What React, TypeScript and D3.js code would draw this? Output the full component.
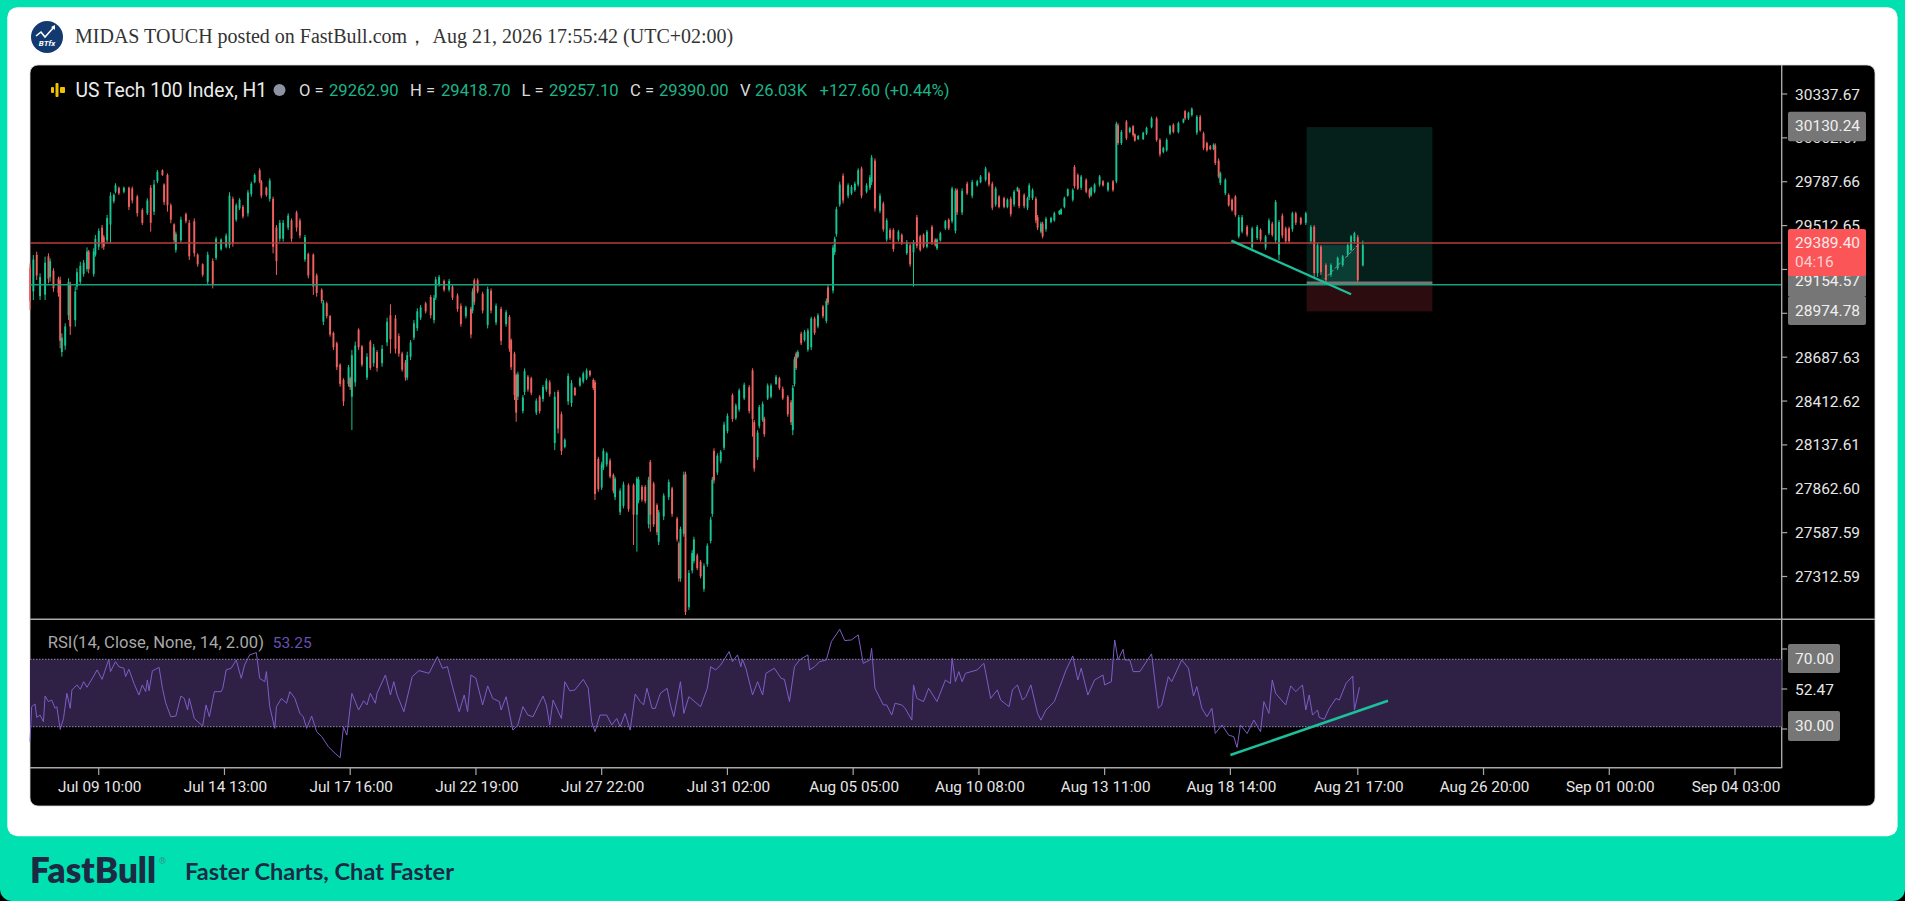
import React from "react";
import * as d3 from "d3";

type Row = [number, number, number, number, number];

// [bar number, open, high, low, close]
const earlyJuly: Row[] = [
[0,29250,29276,28983,29040],[2,29100,29328,29046,29300],[4,29330,29349,29172,29200],[6,29070,29213,29046,29190],[9,29080,29318,29046,29280],[11,29320,29339,29151,29180],[12,29190,29307,29161,29290],[14,29230,29245,29098,29120],[17,29180,29192,29067,29090],[18,29170,29192,28743,28790],[19,28720,28837,28691,28810],[21,28760,28900,28733,28880],[23,28950,29182,28921,29160],[24,29140,29161,28827,28880],[27,28920,29130,28879,29100],[28,29130,29245,29109,29220],[30,29160,29286,29140,29260],[32,29210,29297,29192,29280],[34,29240,29376,29224,29350],[35,29350,29360,29213,29240],[38,29210,29370,29192,29350],[39,29330,29454,29318,29430],[41,29380,29495,29360,29480],[43,29500,29516,29370,29400],[44,29440,29454,29360,29380],[46,29420,29579,29401,29560],[48,29520,29721,29401,29700],[50,29665,29715,29652,29705],[51,29725,29778,29715,29765],[53,29750,29757,29705,29715],[56,29725,29757,29715,29750],[59,29750,29757,29610,29630],[61,29745,29757,29652,29670],[64,29695,29705,29569,29590],[67,29610,29621,29516,29530],[70,29590,29684,29579,29670],[72,29750,29767,29475,29530],[74,29600,29799,29579,29770],[76,29790,29861,29778,29850],[79,29860,29865,29824,29830],[80,29770,29778,29642,29660],[82,29830,29840,29600,29640],[84,29640,29652,29527,29550],[86,29520,29527,29401,29420],[87,29360,29475,29343,29460],[90,29420,29569,29401,29550],[93,29585,29594,29527,29540],[95,29530,29548,29297,29320],[98,29540,29558,29318,29340],[100,29330,29339,29255,29270],[103,29270,29276,29192,29205],[106,29160,29349,29140,29330],[109,29290,29307,29119,29140],[111,29310,29443,29297,29430],[114,29365,29433,29355,29425],[117,29380,29464,29370,29450],[119,29390,29721,29370,29700],[121,29680,29694,29380,29400],[123,29550,29652,29537,29640],[125,29620,29684,29610,29675],[127,29630,29642,29558,29570],[130,29590,29736,29569,29720],[132,29710,29788,29694,29775],[134,29785,29840,29778,29830],[137,29860,29872,29778,29790],[138,29790,29799,29684,29700],[141,29750,29757,29694,29705],[143,29680,29809,29663,29795],[145,29680,29694,29339,29380],[147,29500,29516,29203,29290],[149,29430,29548,29412,29530],[151,29430,29548,29412,29530],[154,29500,29590,29485,29575],[156,29545,29558,29412,29430],[159,29595,29606,29475,29500],[161,29545,29558,29433,29450],[164,29300,29454,29286,29440],[166,29335,29343,29182,29200],[169,29330,29339,29078,29130],[171,29200,29213,29067,29090],[174,29110,29119,29025,29040],[175,28910,29046,28889,29030],[177,29025,29036,28931,28945],[179,28945,28952,28816,28830],[181,28840,28848,28733,28750],[183,28775,28785,28607,28625],[185,28640,28649,28503,28520],[187,28545,28555,28382,28410],[190,28520,28639,28503,28625],[191,28555,28566,28482,28500],[192,28440,28733,28231,28700],[194,28530,28785,28503,28760],[196,28860,28869,28733,28750],[198,28755,28764,28628,28640],[201,28560,28712,28545,28690],[203,28785,28795,28607,28620],
];

const midJuly: Row[] = [
[205,28650,28770,28628,28750],[207,28720,28732,28597,28620],[210,28650,28764,28628,28740],[213,28780,28935,28757,28910],[215,28950,29019,28711,28800],[218,28930,28952,28711,28740],[220,28820,28837,28691,28710],[222,28710,28722,28597,28610],[224,28655,28670,28540,28560],[225,28560,28722,28544,28700],[227,28690,28795,28670,28780],[229,28810,28920,28795,28900],[231,28870,28994,28852,28975],[233,28935,29015,28920,29000],[236,29025,29035,28962,28975],[239,29065,29077,28931,28950],[241,28920,29077,28900,29060],[242,29060,29192,29046,29175],[244,29140,29203,29130,29190],[247,29165,29175,29098,29110],[250,29110,29178,29098,29165],[252,29130,29140,29046,29060],[255,29075,29088,28973,28990],[257,29010,29025,28879,28895],[260,28945,29010,28931,29000],[263,28990,29004,28806,28830],[264,28980,29119,28962,29100],[265,29170,29182,29015,29035],[267,29170,29182,29088,29100],[270,29085,29098,28962,28980],[273,28890,29130,28868,29115],[275,29105,29119,28962,28980],[278,28905,29025,28889,29010],[281,28990,29004,28764,28790],[284,28895,28983,28879,28970],[286,28940,28952,28722,28740],[287,28795,28805,28607,28625],[289,28710,28722,28419,28450],[290,28575,28586,28283,28340],[291,28440,28597,28419,28580],[294,28350,28450,28335,28435],[295,28470,28617,28450,28600],[297,28565,28576,28471,28485],[299,28555,28565,28450,28465],[302,28340,28429,28325,28415],[304,28440,28450,28335,28350],[306,28425,28513,28408,28500],[308,28485,28555,28471,28540],[310,28530,28544,28440,28455],[313,28150,28471,28105,28440],[315,28470,28482,28210,28240],[317,28330,28346,28074,28100],[319,28125,28179,28116,28170],[321,28410,28586,28388,28570],[323,28400,28544,28377,28525],[325,28495,28502,28444,28450],[328,28510,28565,28502,28555],[330,28535,28597,28523,28585],[332,28555,28617,28544,28605],[334,28600,28607,28565,28575],[336,28545,28555,28482,28495],[337,28530,28544,27792,27830],[339,28050,28063,27844,27860],[341,27870,28032,27855,28015],[342,27995,28116,27980,28100],[344,28015,28095,28001,28085],[346,28040,28053,27928,27940],[348,27950,27959,27834,27850],[349,27810,27938,27792,27925],[352,27715,27865,27698,27850],[354,27755,27907,27740,27890],[357,27885,27896,27719,27735],[360,27885,27896,27510,27700],[362,27700,27938,27468,27925],[363,27790,27938,27771,27920],[365,27875,27886,27781,27795],[367,27875,27886,27771,27785],[369,27640,27938,27614,27920],[370,28030,28043,27593,27700],[372,27895,27907,27624,27640],[374,27760,27771,27572,27590],[375,27530,27730,27510,27715],[378,27690,27834,27666,27820],[381,27810,27921,27792,27905],[383,27865,27875,27687,27705],[386,27675,27687,27531,27545],[387,27520,27531,27280,27300],[388,27300,27625,27280,27610],[390,27580,27970,27562,27950],[391,27955,27970,27071,27090],[393,27120,27353,27102,27335],[395,27350,27478,27332,27460],[396,27410,27562,27395,27545],[398,27445,27457,27353,27365],[400,27405,27416,27301,27315],
];

const lateJuly: Row[] = [
[402,27235,27395,27217,27380],[404,27390,27520,27374,27505],[406,27535,27687,27520,27670],[407,27705,27938,27687,27920],[408,28100,28116,27896,27915],[410,27965,28085,27949,28070],[412,28035,28105,28022,28095],[414,28120,28283,28105,28265],[416,28225,28335,28210,28320],[419,28450,28461,28283,28300],[421,28305,28398,28294,28385],[423,28360,28492,28346,28480],[426,28430,28528,28419,28515],[429,28500,28513,28335,28350],[431,28605,28618,28189,28300],[432,28280,28294,27970,27990],[434,28060,28231,28043,28215],[435,28255,28388,28241,28375],[437,28295,28409,28283,28395],[438,28300,28314,28189,28205],[440,28430,28523,28419,28510],[442,28440,28523,28429,28510],[445,28520,28576,28513,28565],[447,28555,28565,28482,28495],[449,28490,28503,28419,28430],[452,28440,28450,28314,28330],[454,28405,28419,28262,28280],[455,28230,28513,28199,28495],[456,28520,28691,28503,28675],[457,28710,28722,28607,28620],[458,28690,28732,28680,28720],[460,28835,28847,28764,28775],[462,28795,28858,28785,28845],[464,28735,28868,28722,28855],[466,28750,28941,28733,28930],[468,28930,28942,28827,28840],[470,28880,28963,28868,28950],[473,29005,29015,28931,28945],[475,28915,29056,28900,29040],[476,29125,29140,29015,29030],
];

const earlyAugust: Row[] = [
[479,29105,29391,29088,29375],[480,29345,29443,29328,29430],[481,29460,29631,29443,29615],[483,29645,29788,29631,29770],[485,29825,29840,29652,29670],[488,29700,29778,29684,29765],[490,29715,29767,29705,29755],[492,29735,29788,29725,29775],[494,29770,29872,29757,29860],[496,29870,29882,29684,29700],[499,29725,29778,29715,29765],[501,29750,29830,29736,29815],[502,29785,29955,29767,29940],[504,29920,29934,29600,29620],[507,29605,29715,29590,29700],[509,29650,29663,29475,29490],[511,29425,29558,29412,29545],[513,29485,29496,29422,29435],[515,29485,29496,29349,29365],[518,29425,29485,29412,29475],[520,29455,29464,29391,29405],[523,29340,29422,29328,29410],[525,29390,29401,29255,29270],[527,29345,29422,29130,29410],[529,29565,29579,29370,29385],[531,29445,29454,29349,29360],[533,29455,29464,29370,29380],[535,29380,29485,29370,29475],[538,29505,29516,29391,29405],[540,29425,29433,29381,29390],[541,29370,29433,29360,29425],[543,29420,29475,29412,29465],[546,29495,29548,29485,29540],[548,29550,29558,29485,29495],[550,29540,29757,29527,29745],[552,29480,29746,29464,29730],[553,29735,29746,29579,29595],[556,29595,29746,29579,29730],[559,29775,29788,29705,29715],[562,29700,29799,29684,29785],[565,29765,29799,29757,29790],[567,29785,29830,29778,29820],[570,29800,29882,29788,29870],[572,29840,29851,29757,29770],[574,29775,29788,29610,29625],[576,29645,29757,29631,29745],[578,29695,29704,29621,29630],[581,29685,29694,29621,29630],[583,29630,29684,29621,29675],[585,29680,29694,29569,29585],[587,29645,29736,29631,29725],[589,29730,29757,29725,29750],
];

const midAugust: Row[] = [
[590,29735,29746,29621,29635],[593,29705,29715,29621,29635],[595,29625,29694,29610,29685],[596,29690,29778,29673,29765],[598,29685,29746,29673,29735],[600,29680,29694,29527,29545],[601,29565,29579,29485,29500],[603,29475,29537,29464,29525],[604,29525,29537,29433,29445],[606,29490,29568,29474,29555],[609,29535,29568,29527,29560],[611,29545,29600,29537,29590],[614,29585,29610,29579,29605],[615,29585,29621,29579,29615],[617,29630,29694,29621,29685],[619,29700,29746,29694,29740],[622,29675,29746,29663,29735],[623,29880,29892,29746,29760],[625,29830,29840,29736,29745],[627,29750,29830,29736,29820],[630,29800,29809,29715,29725],[632,29735,29746,29684,29695],[633,29705,29757,29694,29750],[635,29725,29778,29715,29770],[638,29770,29830,29757,29820],[640,29790,29798,29757,29765],[643,29735,29788,29725,29780],[646,29790,29798,29725,29735],[648,29790,30164,29778,30150],[649,30140,30154,30018,30030],[651,30030,30112,30018,30100],[654,30165,30175,30049,30060],[656,30100,30133,30091,30125],[658,30135,30143,30070,30080],[659,30085,30091,30039,30045],[661,30055,30080,30049,30075],[664,30055,30101,30049,30095],[666,30090,30133,30080,30125],[669,30130,30196,30122,30185],[672,30185,30196,30039,30050],[674,30050,30060,29945,29960],[676,29975,30007,29966,30000],[678,29985,30060,29976,30050],[680,30090,30143,30080,30135],[682,30145,30154,30091,30100],[685,30100,30164,30091,30155],[688,30160,30185,30154,30180],[689,30230,30237,30175,30185],[691,30185,30227,30175,30220],[693,30205,30254,30196,30245],[696,30095,30206,30081,30195],[698,30195,30206,30101,30110],[700,30090,30101,29986,30000],[702,30030,30039,29976,29985],[704,30010,30018,29986,29992],[706,29992,30028,29986,30020],[707,30015,30028,29892,29905],[709,29920,29934,29809,29820],[710,29780,29851,29767,29840],[713,29715,29809,29704,29800],[715,29705,29715,29631,29640],[717,29675,29683,29600,29610],[719,29695,29704,29568,29580],
];

const lateAugust: Row[] = [
[721,29445,29579,29433,29565],[723,29475,29579,29464,29565],[726,29505,29516,29443,29455],[729,29375,29506,29360,29495],[732,29435,29516,29422,29505],[734,29485,29495,29412,29425],[737,29375,29454,29360,29445],[739,29465,29558,29454,29545],[741,29525,29537,29443,29455],[743,29420,29673,29401,29660],[745,29330,29548,29297,29535],[747,29575,29589,29433,29450],[749,29495,29506,29401,29415],[751,29495,29506,29401,29415],[753,29490,29600,29474,29590],[755,29590,29600,29516,29530],[758,29560,29568,29516,29525],[761,29530,29600,29516,29590],[764,29415,29516,29401,29505],[766,29505,29516,29192,29215],[768,29215,29401,29192,29390],[770,29380,29391,29203,29220],[773,29265,29276,29150,29170],[776,29205,29276,29192,29265],[780,29245,29318,29234,29310],[783,29265,29328,29255,29320],[786,29330,29401,29318,29390],[788,29360,29454,29349,29445],[790,29415,29474,29401,29465],[792,29440,29454,29150,29170],[795,29262.9,29418.7,29257.1,29390],
];

const candles: Row[] = [...earlyJuly, ...midJuly, ...lateJuly, ...earlyAugust, ...midAugust, ...lateAugust];

const rsiBarsA = [0,1,3,4,6,8,9,11,13,15,16,18,20,22,24,25,28,30,32,34,38,40,43,47,48,51,53,56,57,59,62,65,67,69,70,71,73,77,79,81,84,87,90,92,94,95,98,103,105,107,110,114,115,117,120,123,126,128,131,135,137,140,141,143,146,147,150,153,155,158,161,163,165,168,171,174,178,182,185,187,189,192,196,199,201,203,206,207,212,215,217,219,223,228,232,238,243,246,249,252,256,259,261,263,266,270,273,276,280,281,284,288,291,294,297,300,306,308,310,312,317,319,322,325,330,333,335,337,340,344,347,350,352,355,358,361,364];
const rsiValsA = [21.1,41.9,43.5,35.5,36.9,33,48.2,44.9,45.8,40.9,41.9,28.4,34.9,49.8,40.9,51.8,54.8,52.2,56.7,53.4,60.1,63.7,58.1,70,62.7,68.6,65.6,64.7,59.7,64.1,55.7,48.8,54.8,50.8,57.7,51.4,63.1,65.2,52.8,43.9,35.9,36.3,48.2,46.8,39.9,46.8,34.9,30.4,42.9,35.9,50.8,50.8,52.8,63.7,64.7,69.6,58.7,66.6,72.6,74,58.7,56.7,62.7,41.9,29,41.9,46.8,43.9,50.8,46.8,37.9,35.9,29,36.3,27,24.1,18.1,14.2,11.6,30,25,49.8,39.9,45.4,42.9,49.8,43.9,49.8,60.7,48.8,56.7,48.8,38.9,59.7,63.3,61.7,71.6,64.7,65.6,53.8,38.9,48.8,38.9,60.7,58.7,42.9,54.2,46.8,44.9,39.9,47.8,28,31,41.9,36.9,35.9,48.2,42.9,31,45.8,34.9,56.7,51.2,51.8,58.1,52.8,33,27,36.9,36.9,31,34.9,30,37.9,28,49.4,44.9];
const rsiBarsB = [366,368,371,373,376,380,382,384,388,390,393,400,404,406,409,412,417,419,422,424,425,427,431,434,437,439,444,448,450,453,456,459,464,465,468,471,475,478,483,486,490,494,497,501,502,504,509,511,514,516,520,522,526,527,529,533,536,541,546,549,550,552,554,556,558,565,569,573,577,579,584,586,589,592,594,597,601,603,606,611,618,622,625,627,631,635,640,641,645,647,649,652,653,656,658,662,669,673,675,679,681,687,691,694,696,699,702,705,707,711,715,718,720,722,726,730,734,736,739,741,743,749,752,755,759,761,763,765,768,769,772,775,779,781,785,789,790,793];
const rsiValsB = [42.9,52.8,40.9,40.9,49.8,52.8,42.9,35.9,56.7,37.9,47.8,41.9,52.8,65.6,63.7,66.6,74.6,68.6,72.6,65.6,70,64.7,48.8,56.7,48.8,61.7,64.7,58.7,58.1,44.9,65.6,69.6,72.6,63.7,65.6,68.6,69.6,80.5,87.8,81.1,81.5,84.5,67.6,69.6,76.5,52.8,42.9,42.9,36.9,43.9,42.9,40.9,33.9,54.8,46.8,44.9,52.8,44.9,57.7,55.7,70.6,56.7,62.7,56.7,61.7,63.7,67.6,46.8,51.8,45.8,41.9,51.8,54.8,45.8,47.8,54.8,37.9,33.9,39.9,44.9,63.7,72,57.7,64.7,48.8,57.7,60.7,54.8,56.7,81.5,69.6,75.9,69.6,69.6,62.7,62.7,73.2,40.9,42.9,59.7,56.7,69.6,64.7,48.2,53.8,40.9,35.9,40.9,26,31,25,24.1,17.7,31,26,33.9,27,44.9,37.9,57.7,49.8,42.9,54.2,50.8,54.8,39.9,48.8,36.9,39.9,35.5,34.4,40.9,46.8,45.8,55.7,60.1,39.9,53.4];

const priceTicks = [30337.67, 30062.67, 29787.66, 29512.65, 29237.64, 28962.63, 28687.63, 28412.62, 28137.61, 27862.6, 27587.59, 27312.59];
const labelsCoveredByBoxes = [29237.64, 28962.63];
const timeTickBars = [41, 116, 191, 266, 341, 416, 491, 566, 641, 716, 792, 867, 942, 1017];
const timeTickLabels = ["Jul 09 10:00", "Jul 14 13:00", "Jul 17 16:00", "Jul 22 19:00", "Jul 27 22:00", "Jul 31 02:00", "Aug 05 05:00", "Aug 10 08:00", "Aug 13 11:00", "Aug 18 14:00", "Aug 21 17:00", "Aug 26 20:00", "Sep 01 00:00", "Sep 04 03:00"];
const ohlcLegend: [string, string][] = [["O =", "29262.90"], ["H =", "29418.70"], ["L =", "29257.10"], ["C =", "29390.00"]];
const legendKeyX = [299, 410, 521.5, 630];
const legendValX = [329, 441, 549, 659];
const redLevel = 29404;
const greenLevel = 29142;
const targetPrice = 30130.24;
const entryPrice = 29154.57;
const stopPrice = 28974.78;
const positionBars = [761.5, 836.5];
const lastPrice = 29389.4;
const priceTrendBars = [716.6, 788];
const priceTrendVals = [29418, 29082];
const rsiTrendBars = [716, 810];
const rsiTrendVals = [13.2, 45.4];
const rsiLevels = [70, 30];

const FONT = "Roboto, sans-serif";
const UP = "#17c493";
const DOWN = "#f0605f";
const AXIS = "#a8a8a8";
const TEAL = "#00e0b1";

export default function App() {
  const x = d3.scaleLinear().domain([0, 1017]).range([30, 1735]);
  const y = d3.scaleLinear().domain([30337.67, 27312.59]).range([94, 576.5]);
  const r = d3.scaleLinear().domain([70, 30]).range([659.3, 726.7]);
  const allBars = [...rsiBarsA, ...rsiBarsB];
  const allVals = [...rsiValsA, ...rsiValsB];
  const rsiLine = d3.line<number>().x((b) => x(b)).y((_, i) => r(allVals[i]));
  const axisX = 1781.7;
  const chartL = 30;
  const [pL, pR] = positionBars.map((b) => x(b));
  const ep = y(entryPrice);
  const lastX = x(792);
  return (
    <svg width={1905} height={901} viewBox="0 0 1905 901" style={{ position: "fixed", left: 0, top: 0, display: "block" }}>
      <rect width={1905} height={901} fill="#000" />
      <path d="M0 0H1905V889a12 12 0 0 1-12 12H12a12 12 0 0 1-12-12Z" fill={TEAL} />
      <rect x={7.3} y={7.3} width={1890.3} height={829} rx={10} fill="#fff" />
      {/* header */}
      <circle cx={47} cy={37} r={16} fill="#123a70" />
      <path d="M36 36l5-4 4 5 9-10" fill="none" stroke="#fff" strokeWidth={1.6} />
      <path d="M55 25l0 5-4-3z" fill="#fff" />
      <text x={47} y={46} fontSize={8} fontWeight={700} fontStyle="italic" fill="#fff" textAnchor="middle" fontFamily={FONT}>BTfx</text>
      <text x={75} y={43} fontSize={20} fill="#333" fontFamily="'Liberation Serif', serif">MIDAS TOUCH posted on FastBull.com，</text>
      <text x={432.5} y={43} fontSize={20} fill="#333" fontFamily="'Liberation Serif', serif">Aug 21, 2026 17:55:42 (UTC+02:00)</text>
      {/* chart panel */}
      <rect x={chartL} y={65} width={1845} height={741} rx={8} fill="#000" stroke="#d8d8d8" strokeWidth={0.8} />
      {/* position tool */}
      <rect x={pL} y={y(targetPrice)} width={pR - pL} height={ep - y(targetPrice)} fill="#05201b" />
      <rect x={pL} y={ep} width={pR - pL} height={y(stopPrice) - ep} fill="#2c0c0f" />
      <rect x={x(770)} y={y(lastPrice)} width={lastX - x(770)} height={ep - y(lastPrice)} fill="#0a3d34" />
      <line x1={x(770)} y1={ep} x2={lastX} y2={y(lastPrice)} stroke="#8a9a96" strokeWidth={1} strokeDasharray="3 2" />
      {/* candles */}
      {candles.map(([b, o, h, l, c]) => {
        const col = c >= o ? UP : DOWN;
        const top = Math.min(y(o), y(c));
        const ht = Math.max(1, Math.abs(y(o) - y(c)));
        return (
          <g key={b}>
            <line x1={x(b)} x2={x(b)} y1={y(h)} y2={y(l)} stroke={col} strokeWidth={1} />
            <rect x={x(b) - 0.95} y={top} width={1.9} height={ht} fill={col} />
          </g>
        );
      })}
      <line x1={pL} x2={pR} y1={ep} y2={ep} stroke="#777" strokeWidth={2.5} />
      <line x1={chartL} x2={axisX} y1={y(redLevel)} y2={y(redLevel)} stroke="#b93c3c" strokeWidth={1.5} />
      <line x1={chartL} x2={axisX} y1={y(greenLevel)} y2={y(greenLevel)} stroke="#13a17e" strokeWidth={1.5} />
      <line x1={x(priceTrendBars[0])} x2={x(priceTrendBars[1])} y1={y(priceTrendVals[0])} y2={y(priceTrendVals[1])} stroke="#1cc09a" strokeWidth={2.4} />
      {/* legend */}
      <g fill="#f2c200">
        <rect x={51} y={87} width={3} height={6} rx={1} />
        <rect x={55.5} y={83} width={3} height={14} rx={1} />
        <rect x={60} y={87} width={5} height={6} rx={1} />
      </g>
      <text x={75.5} y={96.5} fontSize={19.3} fill="#ececec" fontFamily={FONT}>US Tech 100 Index, H1</text>
      <circle cx={279.5} cy={90} r={6} fill="#8f92a0" />
      <g fontFamily={FONT} fontSize={16.6}>
        {ohlcLegend.map(([k, v], i) => (
          <g key={k}>
            <text x={legendKeyX[i]} y={96} fill="#dcdcdc">{k}</text>
            <text x={legendValX[i]} y={96} fill="#1cb488">{v}</text>
          </g>
        ))}
        <text x={740} y={96} fill="#dcdcdc">V</text>
        <text x={755} y={96} fill="#1cb488">26.03K</text>
        <text x={819.6} y={96} fill="#1cb488">+127.60 (+0.44%)</text>
      </g>
      {/* axes */}
      <line x1={axisX} x2={axisX} y1={65} y2={768} stroke={AXIS} strokeWidth={1.4} />
      <line x1={chartL} x2={1875} y1={619.3} y2={619.3} stroke={AXIS} strokeWidth={1.4} />
      <line x1={chartL} x2={axisX} y1={767.7} y2={767.7} stroke={AXIS} strokeWidth={1.4} />
      {priceTicks.map((p) => (
        <g key={p}>
          <line x1={axisX} x2={axisX + 5.5} y1={y(p)} y2={y(p)} stroke={AXIS} strokeWidth={1.2} />
          {labelsCoveredByBoxes.includes(p) ? null : (
            <text x={1795} y={y(p) + 5.5} fontSize={15.5} fill="#e6e6e6" fontFamily={FONT}>{p.toFixed(2)}</text>
          )}
        </g>
      ))}
      {timeTickBars.map((b, i) => (
        <g key={b}>
          <line x1={x(b)} x2={x(b)} y1={767.7} y2={775} stroke={AXIS} strokeWidth={1.2} />
          <text x={x(b) + 1} y={792} fontSize={15.3} fill="#e6e6e6" textAnchor="middle" fontFamily={FONT}>{timeTickLabels[i]}</text>
        </g>
      ))}
      {/* price labels */}
      <g fontFamily={FONT} fontSize={15.5}>
        <rect x={1788} y={111.7} width={78} height={29.5} rx={2} fill="#767676" />
        <text x={1795} y={131} fill="#f0f0f0">{targetPrice.toFixed(2)}</text>
        <rect x={1788} y={266} width={78} height={30} fill="#767676" />
        <text x={1795} y={286} fill="#f0f0f0">{entryPrice.toFixed(2)}</text>
        <rect x={1788} y={296} width={78} height={29} rx={2} fill="#767676" />
        <text x={1795} y={315.5} fill="#f0f0f0">{stopPrice.toFixed(2)}</text>
        <rect x={1788} y={229} width={78} height={47} rx={2} fill="#fb5558" />
        <text x={1795} y={248} fill="#fdeaea">{lastPrice.toFixed(2)}</text>
        <text x={1795} y={266.5} fill="#fcd0d0">04:16</text>
      </g>
      {/* RSI pane */}
      <text x={47.8} y={647.5} fontSize={16.6} fill="#a9a9a9" fontFamily={FONT}>RSI(14, Close, None, 14, 2.00)</text>
      <text x={272.7} y={647.5} fontSize={15.5} fill="#6a4fb5" fontFamily={FONT}>53.25</text>
      <rect x={chartL} y={r(70)} width={axisX - chartL} height={r(30) - r(70)} fill="#2f2146" />
      {rsiLevels.map((l) => (
        <line key={l} x1={chartL} x2={axisX} y1={r(l)} y2={r(l)} stroke="#7d7192" strokeWidth={1.2} strokeDasharray="1.5 1.5" />
      ))}
      <path d={rsiLine(allBars) ?? ""} fill="none" stroke="#7e5cc6" strokeWidth={1} />
      <line x1={x(rsiTrendBars[0])} x2={x(rsiTrendBars[1])} y1={r(rsiTrendVals[0])} y2={r(rsiTrendVals[1])} stroke="#1cc09a" strokeWidth={2.4} />
      {[649, 689, 729].map((t) => (
        <line key={t} x1={axisX} x2={axisX + 5.5} y1={t} y2={t} stroke={AXIS} strokeWidth={1.2} />
      ))}
      <g fontFamily={FONT} fontSize={15.5}>
        <rect x={1788} y={644} width={52} height={29} rx={2} fill="#767676" />
        <text x={1795} y={664} fill="#f0f0f0">70.00</text>
        <text x={1795} y={694.5} fill="#e6e6e6">52.47</text>
        <rect x={1788} y={711} width={52} height={30} rx={2} fill="#767676" />
        <text x={1795} y={731} fill="#f0f0f0">30.00</text>
      </g>
      {/* footer */}
      <text x={30} y={883} fontSize={35} fontWeight={800} fill="#1d2a44" fontFamily="Lato, sans-serif">FastBull</text>
      <text x={159} y={864} fontSize={9} fill="#3c8f84" fontFamily={FONT}>®</text>
      <text x={185} y={880} fontSize={23.6} fontWeight={700} fill="#1d2a44" fontFamily="Lato, sans-serif">Faster Charts, Chat Faster</text>
    </svg>
  );
}
